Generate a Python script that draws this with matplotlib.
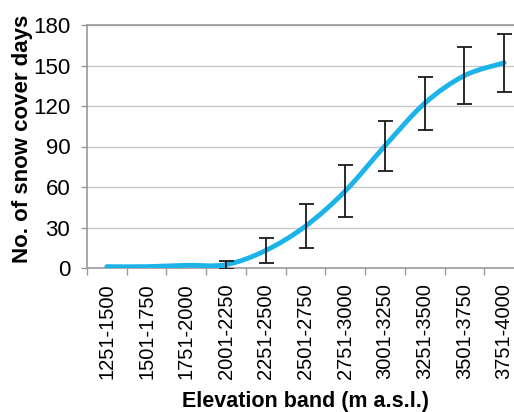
import numpy as np
import matplotlib
matplotlib.use("Agg")
import matplotlib.pyplot as plt
from matplotlib.path import Path
from matplotlib.patches import PathPatch

plt.rcParams['font.family'] = ['Liberation Sans', 'DejaVu Sans']

# Mean snow cover duration per elevation band and its spread
bands = ["1251-1500", "1501-1750", "1751-2000", "2001-2250", "2251-2500",
         "2501-2750", "2751-3000", "3001-3250", "3251-3500", "3501-3750",
         "3751-4000"]
snow_days = [1, 1, 2, 2.5, 13, 31, 57, 90.5, 122, 142.5, 152]
spread = [0, 0, 0, 3, 9, 16.5, 19.5, 18.5, 19.5, 21, 21.5]
y_ticks = [0, 30, 60, 90, 120, 150, 180]

fig = plt.figure(figsize=(5.14, 4.12), dpi=100)
ax = fig.add_axes([87 / 514, 144 / 412, 437 / 514, 243 / 412])

x = np.arange(len(bands), dtype=float)
y = np.array(snow_days, dtype=float)

# Smoothed curve through the points (cubic Bezier, Catmull-Rom style tangents)
pts = np.column_stack([x, y])
ext = np.vstack([pts[0], pts, pts[-1]])
verts = [tuple(pts[0])]
codes = [Path.MOVETO]
for i in range(len(pts) - 1):
    p0, p1, p2, p3 = ext[i], ext[i + 1], ext[i + 2], ext[i + 3]
    c1 = p1 + (p2 - p0) / 6.0
    c2 = p2 - (p3 - p1) / 6.0
    verts += [tuple(c1), tuple(c2), tuple(p2)]
    codes += [Path.CURVE4] * 3
curve = PathPatch(Path(verts, codes), facecolor='none', edgecolor='#1cb4e8',
                  lw=3.5, capstyle='round', joinstyle='round', zorder=3)
ax.add_patch(curve)

# Error bars for bands with a measurable spread
err = np.array(spread, dtype=float)
m = err > 0
ax.errorbar(x[m], y[m], yerr=err[m], fmt='none', ecolor='#1a1a1a',
            elinewidth=1.3, capsize=5.4, capthick=1.3, zorder=4)

ax.set_xlim(-0.5, len(bands) - 0.5)
ax.set_ylim(0, 180)
ax.set_yticks(y_ticks)
ax.set_yticklabels([str(v) for v in y_ticks], fontsize=16)
ax.set_xticks(x)
ax.set_xticklabels(bands, rotation=90, fontsize=14.5)
ax.set_xticks(np.arange(len(bands) + 1) - 0.5, minor=True)
ax.tick_params(axis='x', which='major', length=0, pad=11)
ax.tick_params(axis='x', which='minor', length=5, color='#999999', width=1)
ax.tick_params(axis='y', which='major', length=4, color='#999999', width=1, pad=8)

ax.grid(axis='y', color='#c8c8c8', lw=1)
ax.set_axisbelow(True)
for s in ax.spines.values():
    s.set_color('#999999')
    s.set_linewidth(1.2)

ax.set_ylabel("No. of snow cover days", fontsize=16, fontweight='bold')
ax.yaxis.set_label_coords(-0.1465, 0.53)
ax.yaxis.label.set_va('center')
ax.set_xlabel("Elevation band (m a.s.l.)", fontsize=15.5, fontweight='bold')
ax.xaxis.set_label_coords(0.5, -0.55)
ax.xaxis.label.set_va('center')

fig.savefig("out.png", dpi=100)
